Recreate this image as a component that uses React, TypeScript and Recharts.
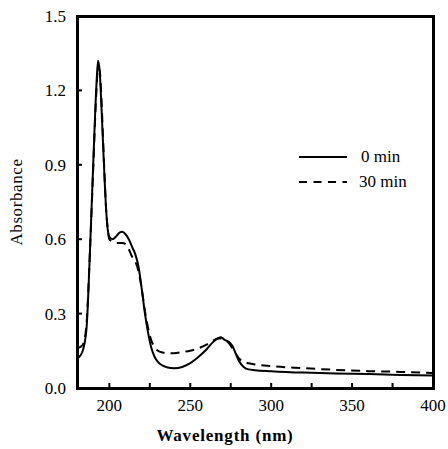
import React from "react";
import { LineChart, Line, XAxis, YAxis } from "recharts";

const FONT = "'Times New Roman', 'Liberation Serif', serif";

// wavelength (nm) and absorbance values
const wavelengths = [
  180, 182, 184, 186, 188, 190, 192, 193, 194, 195, 196, 197, 198, 199, 200,
  202, 204, 206, 208, 210, 212, 214, 216, 218, 220, 222, 224, 226, 228, 230,
  233, 236, 240, 245, 250, 255, 260, 264, 267, 269, 271, 274, 276, 278, 280,
  283, 286, 290, 300, 320, 340, 360, 380, 400,
];

const min0 = [
  0.12, 0.13, 0.16, 0.25, 0.55, 0.9, 1.22, 1.32, 1.28, 1.15, 1.0, 0.85, 0.72,
  0.64, 0.61, 0.6, 0.61, 0.625, 0.63, 0.62, 0.6, 0.57, 0.54, 0.49, 0.4, 0.3,
  0.22, 0.16, 0.125, 0.105, 0.09, 0.083, 0.08, 0.085, 0.1, 0.125, 0.155,
  0.185, 0.2, 0.205, 0.195, 0.185, 0.17, 0.14, 0.11, 0.085, 0.075, 0.072,
  0.068, 0.062, 0.058, 0.056, 0.052, 0.05,
];

const min30 = [
  0.16, 0.165, 0.18, 0.27, 0.55, 0.88, 1.2, 1.29, 1.28, 1.18, 1.02, 0.86,
  0.72, 0.64, 0.6, 0.59, 0.585, 0.585, 0.585, 0.58, 0.56, 0.53, 0.51, 0.47,
  0.4, 0.31, 0.24, 0.19, 0.165, 0.15, 0.143, 0.14, 0.14, 0.145, 0.15, 0.16,
  0.175, 0.19, 0.2, 0.2, 0.195, 0.18, 0.16, 0.14, 0.12, 0.105, 0.1, 0.095,
  0.088, 0.08, 0.073, 0.068, 0.065, 0.06,
];

const xTicks = [200, 225, 250, 275, 300, 325, 350, 375, 400];
const yTicks = [0, 0.3, 0.6, 0.9, 1.2, 1.5];

const data = wavelengths.map((w, i) => ({ w, a: min0[i], b: min30[i] }));

// plot box, matches chart margins + axis sizes below
const W = 448;
const H = 449;
const M = { top: 16, right: 15, left: 0, bottom: 0 };
const Y_W = 77;
const X_H = 61;
const GAP = 11;
const BORDER = 3;

// tick label plus a short inward tick mark
const XTick = ({ x, y, payload }: any) => {
  const axisY = y - GAP;
  const major = payload.value % 50 === 0;
  return (
    <g>
      <rect x={x - 1} y={axisY - 5} width={2} height={5} fill="#000" />
      {major && (
        <text x={x} y={y} dy="0.71em" textAnchor="middle" fill="#000" fontSize={17} fontFamily={FONT}>
          {payload.value}
        </text>
      )}
    </g>
  );
};

const YTick = ({ x, y, payload }: any) => {
  const axisX = x + GAP;
  return (
    <g>
      <rect x={axisX} y={y - 1} width={5} height={2} fill="#000" />
      <text x={x} y={y} dy="0.355em" textAnchor="end" fill="#000" fontSize={17} fontFamily={FONT}>
        {payload.value.toFixed(1)}
      </text>
    </g>
  );
};

const LegendBox = () => (
  <div
    style={{
      position: "absolute",
      left: 299,
      top: 144,
      fontFamily: FONT,
      fontSize: 17,
      color: "#000",
    }}
  >
    <div style={{ display: "flex", alignItems: "center", height: 25 }}>
      <svg width={50} height={4}>
        <line x1={0} y1={2} x2={48} y2={2} stroke="#000" strokeWidth={2} />
      </svg>
      <span style={{ marginLeft: 12 }}>0 min</span>
    </div>
    <div style={{ display: "flex", alignItems: "center", height: 25 }}>
      <svg width={50} height={4}>
        <line
          x1={0}
          y1={2}
          x2={48}
          y2={2}
          stroke="#000"
          strokeWidth={2}
          strokeDasharray="8 6.5"
        />
      </svg>
      <span style={{ marginLeft: 10 }}>30 min</span>
    </div>
  </div>
);

const Bar = ({ left, top, width, height }: any) => (
  <div
    style={{
      position: "absolute",
      left,
      top,
      width,
      height,
      background: "#000",
      pointerEvents: "none",
    }}
  />
);

const App = () => {
  const plotLeft = M.left + Y_W;
  const plotTop = M.top;
  const plotW = W - plotLeft - M.right;
  const plotH = H - M.top - M.bottom - X_H;
  const h = BORDER / 2;
  return (
    <div
      style={{
        position: "absolute",
        left: 0,
        top: 0,
        width: W,
        height: H,
        background: "#fff",
        fontFamily: FONT,
      }}
    >
      <LineChart width={W} height={H} data={data} margin={M}>
        <XAxis
          dataKey="w"
          type="number"
          domain={[180, 400]}
          ticks={xTicks}
          interval={0}
          height={X_H}
          axisLine={false}
          tickLine={false}
          tickSize={0}
          tickMargin={GAP}
          tick={<XTick />}
          label={{
            value: "Wavelength  (nm)",
            position: "insideBottom",
            offset: 8,
            dx: -30,
            fill: "#000",
            stroke: "none",
            fontSize: 17,
            fontWeight: "bold",
            fontFamily: FONT,
            style: { letterSpacing: 0.8 },
          }}
        />
        <YAxis
          type="number"
          domain={[0, 1.5]}
          ticks={yTicks}
          interval={0}
          width={Y_W}
          axisLine={false}
          tickLine={false}
          tickSize={0}
          tickMargin={GAP}
          tick={<YTick />}
          label={{
            value: "Absorbance",
            angle: -90,
            position: "insideLeft",
            offset: 16,
            fill: "#000",
            stroke: "none",
            fontSize: 17,
            fontFamily: FONT,
            style: { textAnchor: "middle", letterSpacing: 0.6 },
          }}
        />
        <Line
          type="monotone"
          dataKey="b"
          stroke="#000"
          strokeWidth={2}
          strokeDasharray="9 6"
          dot={false}
          isAnimationActive={false}
        />
        <Line
          type="monotone"
          dataKey="a"
          stroke="#000"
          strokeWidth={2}
          dot={false}
          isAnimationActive={false}
        />
      </LineChart>
      {/* plot frame */}
      <Bar left={plotLeft - h} top={plotTop - h} width={plotW + BORDER} height={BORDER} />
      <Bar left={plotLeft - h} top={plotTop + plotH - h} width={plotW + BORDER} height={BORDER} />
      <Bar left={plotLeft - h} top={plotTop - h} width={BORDER} height={plotH + BORDER} />
      <Bar left={plotLeft + plotW - h} top={plotTop - h} width={BORDER} height={plotH + BORDER} />
      <LegendBox />
    </div>
  );
};

export default App;
